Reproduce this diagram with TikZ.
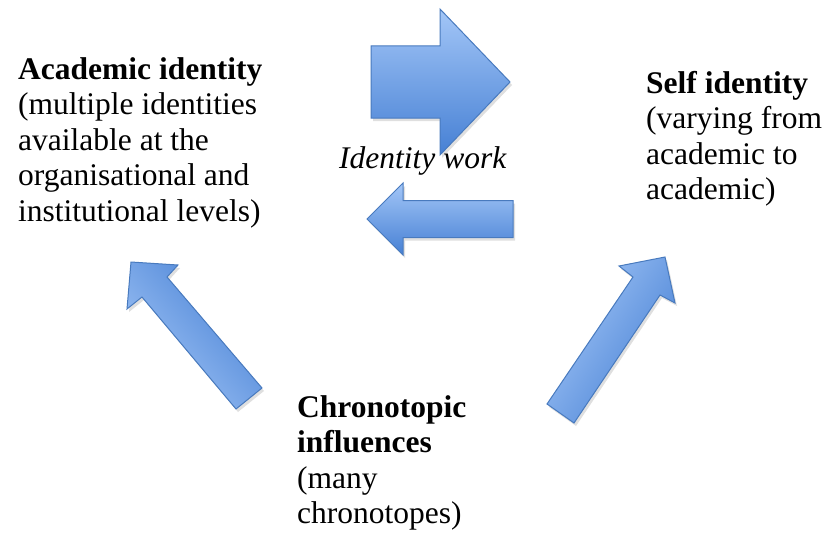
\documentclass[tikz,border=0pt]{standalone}
\usepackage{fontspec}
\setmainfont{Liberation Serif}
\usetikzlibrary{shadows}
\definecolor{arrlight}{RGB}{163,198,247}
\definecolor{arrdark}{RGB}{70,128,212}
\definecolor{arrline}{RGB}{72,122,190}
\begin{document}
\begin{tikzpicture}[x=1pt,y=-1pt,
  blockarrow/.style={draw=arrline, line width=1pt, line join=miter,
    top color=arrlight, bottom color=arrdark,
    drop shadow={opacity=0.25, shadow xshift=2pt, shadow yshift=-3pt}},
  txt/.style={anchor=base west, align=left, inner sep=0pt,
    font=\fontsize{31.5}{35.5}\selectfont}]
\useasboundingbox (0,0) rectangle (832,543);
% big right arrow
\path[blockarrow, shading angle=0] (371,46) -- (440,46) -- (440,9) -- (510,82)
  -- (440,155) -- (440,118) -- (371,118) -- cycle;
% small left arrow
\path[blockarrow, shading angle=0] (513,200.5) -- (403,200.5) -- (403,183) -- (367,219)
  -- (403,255) -- (403,237.5) -- (513,237.5) -- cycle;
% left diagonal arrow
\path[blockarrow, shading angle=131] (131,262) -- (178,265) -- (167,277) -- (262,388)
  -- (236,409) -- (142,297) -- (127,309) -- cycle;
% right diagonal arrow
\path[blockarrow, shading angle=57] (665,257) -- (675,303) -- (660,295) -- (574,423)
  -- (547,404) -- (633,277) -- (619,266) -- cycle;
% texts (anchor = baseline of the last line)
\node[txt] (acad) at (18,221) {\textbf{Academic identity}\\(multiple identities\\available at the\\organisational and\\institutional levels)};
\node[txt] (self) at (646,199.5) {\textbf{Self identity}\\(varying from\\academic to\\academic)};
\node[txt] (chrono) at (297,523.5) {\textbf{Chronotopic}\\\textbf{influences}\\(many\\chronotopes)};
\node[txt, font=\fontsize{31.5}{35.5}\selectfont\itshape] (work) at (339,168) {Identity work};
\end{tikzpicture}
\end{document}
